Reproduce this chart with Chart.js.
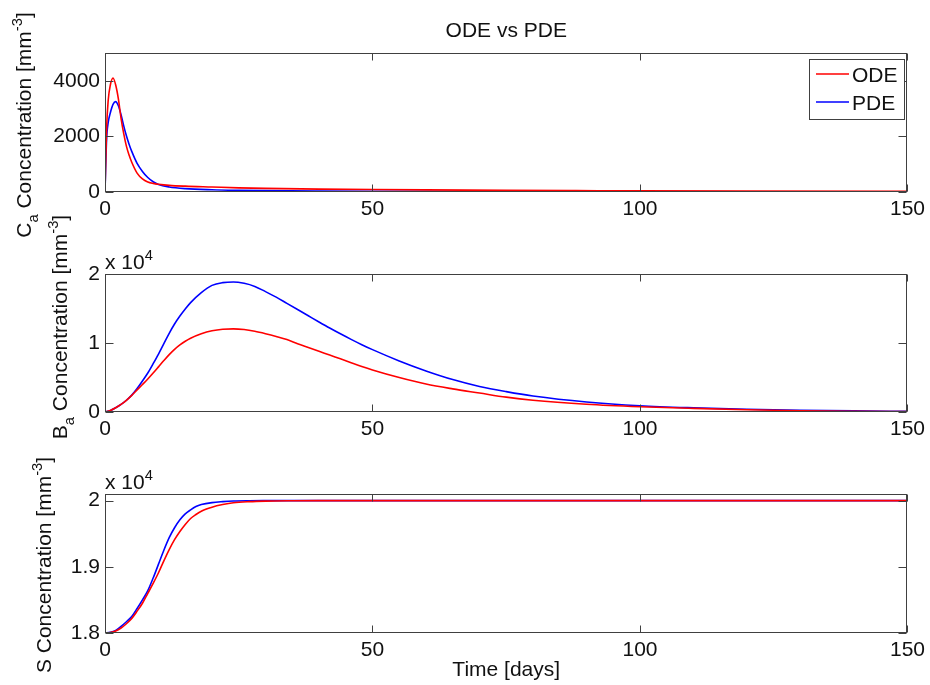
<!DOCTYPE html>
<html>
<head>
<meta charset="utf-8">
<title>ODE vs PDE</title>
<script src="https://cdn.jsdelivr.net/npm/chart.js@4.4.1/dist/chart.umd.min.js"></script>
<style>
  html, body { margin: 0; padding: 0; background: #fff; }
  #wrap { position: relative; width: 930px; height: 685px; background: #fff; }
  #wrap canvas { position: absolute; left: 0; top: 0; }
</style>
</head>
<body>
<div id="wrap">
  <canvas id="caChart" width="930" height="685"></canvas>
  <canvas id="baChart" width="930" height="685"></canvas>
  <canvas id="sChart" width="930" height="685"></canvas>
</div>
<script>
// ---- data ----
const seriesNames = ['ODE', 'PDE'];
const xTicks = [0, 50, 100, 150];

// C_a (top panel)
const timeCa = [0, 0.3, 0.6, 1, 1.5, 2, 2.5, 3, 3.5, 4, 4.5, 5, 6, 7, 8, 9, 10, 12, 15, 20, 25, 30, 40, 50, 60, 75, 88, 100, 120, 150];
const caODE  = [0, 2300, 3300, 3850, 4100, 3850, 3350, 2650, 2100, 1650, 1330, 1070, 680, 470, 360, 310, 280, 240, 210, 180, 150, 130, 105, 88, 75, 60, 50, 42, 32, 22];
const caPDE  = [0, 1900, 2500, 2850, 3150, 3250, 3100, 2780, 2380, 2020, 1720, 1460, 1030, 740, 520, 370, 270, 180, 120, 80, 60, 48, 35, 27, 22, 17, 14, 12, 10, 8];
const caTicks = [0, 2000, 4000];

// B_a (middle panel)
const timeBa = [0, 1, 2, 3, 4, 5, 6, 7, 8, 9, 10, 11, 12, 13, 14, 15, 16, 18, 20, 22, 24, 26, 28, 30, 32, 34, 36, 38, 40, 42, 44, 46, 48, 50, 55, 60, 65, 70, 75, 80, 90, 100, 110, 120, 130, 140, 150];
const baODE  = [0, 230, 620, 1100, 1700, 2420, 3200, 3980, 4780, 5640, 6540, 7450, 8320, 9080, 9720, 10260, 10700, 11350, 11780, 12000, 12050, 11950, 11700, 11350, 10950, 10500, 9900, 9350, 8800, 8250, 7700, 7150, 6600, 6100, 5000, 4050, 3350, 2750, 2150, 1700, 1120, 760, 520, 330, 180, 100, 50];
const baPDE  = [0, 230, 620, 1100, 1700, 2450, 3400, 4500, 5650, 7000, 8400, 9900, 11400, 12750, 13900, 14920, 15850, 17300, 18350, 18750, 18850, 18650, 18200, 17450, 16650, 15750, 14850, 13950, 13050, 12170, 11330, 10530, 9760, 9040, 7400, 5950, 4700, 3700, 2950, 2320, 1450, 900, 600, 400, 260, 160, 100];
const baTicks = [0, 10000, 20000];

// S (bottom panel)
const timeS = [0, 1, 2, 3, 4, 5, 6, 7, 8, 9, 10, 11, 12, 13, 14, 15, 16, 17, 18, 20, 22, 24, 27, 30, 35, 40, 60, 100, 150];
const sODE  = [18000, 18008, 18030, 18075, 18140, 18220, 18330, 18450, 18600, 18750, 18910, 19090, 19260, 19410, 19534, 19640, 19730, 19790, 19840, 19900, 19940, 19968, 19985, 19993, 19998, 20000, 20000, 20000, 20000];
const sPDE  = [18000, 18010, 18040, 18100, 18170, 18250, 18370, 18500, 18640, 18830, 19040, 19250, 19440, 19590, 19710, 19800, 19860, 19910, 19940, 19970, 19985, 19995, 19999, 20000, 20000, 20000, 20000, 20000, 20000];
const sTicks = [18000, 19000, 20000];

// ---- drawing helpers ----
const FONT = '"Liberation Sans", Arial, Helvetica, sans-serif';
const FS = 21;
const AXIS_COLOR = '#404040';
const TEXT_COLOR = '#111';
const W = 930, H = 685;
const PLOT_LEFT = 105, PLOT_RIGHT = 909;

function pts(t, v) {
  return t.map((x, i) => ({ x: x, y: v[i] }));
}

// draws text runs with sub/superscripts along the baseline, returns width
function drawRich(ctx, parts, x, y, measureOnly) {
  let cx = x;
  parts.forEach(p => {
    const size = (p.sub || p.sup) ? FS * 0.7 : FS;
    ctx.font = size + 'px ' + FONT;
    let dy = 0;
    if (p.sub) dy = FS * 0.32;
    if (p.sup) dy = -FS * 0.45;
    if (!measureOnly) ctx.fillText(p.t, cx, y + dy);
    cx += ctx.measureText(p.t).width;
  });
  return cx - x;
}

const framePlugin = {
  id: 'frame',
  afterDraw(chart, args, opts) {
    const ctx = chart.ctx;
    const a = chart.chartArea;
    const xs = chart.scales.x, ys = chart.scales.y;
    ctx.save();

    // box and inward ticks
    ctx.strokeStyle = AXIS_COLOR;
    ctx.lineWidth = 1;
    const L = Math.round(a.left) + 0.5, R = Math.round(a.right) - 0.5;
    const T = Math.round(a.top) + 0.5, B = Math.round(a.bottom) - 0.5;
    ctx.strokeRect(L, T, R - L, B - T);
    ctx.beginPath();
    xs.ticks.forEach(tk => {
      const px = Math.round(xs.getPixelForValue(tk.value)) + 0.5;
      ctx.moveTo(px, B); ctx.lineTo(px, B - 7);
      ctx.moveTo(px, T); ctx.lineTo(px, T + 7);
    });
    ys.ticks.forEach(tk => {
      const py = Math.round(ys.getPixelForValue(tk.value)) + 0.5;
      ctx.moveTo(L, py); ctx.lineTo(L + 8, py);
      ctx.moveTo(R, py); ctx.lineTo(R - 8, py);
    });
    ctx.stroke();

    ctx.fillStyle = TEXT_COLOR;
    ctx.textBaseline = 'alphabetic';
    ctx.textAlign = 'left';

    // y axis label, rotated
    if (opts.yLabel) {
      const len = drawRich(ctx, opts.yLabel, 0, 0, true);
      ctx.save();
      ctx.translate(opts.yLabelX, opts.yLabelY + len / 2);
      ctx.rotate(-Math.PI / 2);
      drawRich(ctx, opts.yLabel, 0, 0);
      ctx.restore();
    }

    // "x 10^4" multiplier above the axes
    if (opts.exponent) {
      drawRich(ctx, [{ t: 'x 10' }, { t: '4', sup: true }], a.left, a.top - 5);
    }

    if (opts.title) {
      ctx.font = FS + 'px ' + FONT;
      ctx.textAlign = 'center';
      ctx.fillText(opts.title, (a.left + a.right) / 2, 37);
    }

    if (opts.xLabel) {
      ctx.font = FS + 'px ' + FONT;
      ctx.textAlign = 'center';
      ctx.fillText(opts.xLabel, (a.left + a.right) / 2, 676);
    }

    // legend box in the upper right corner
    if (opts.legend) {
      const bx = 809.5, by = 59.5, bw = 95, bh = 60;
      ctx.fillStyle = '#fff';
      ctx.fillRect(bx, by, bw, bh);
      ctx.strokeStyle = AXIS_COLOR;
      ctx.strokeRect(bx, by, bw, bh);
      ctx.font = FS + 'px ' + FONT;
      ctx.textAlign = 'left';
      chart.data.datasets.forEach((ds, i) => {
        const ly = 74 + i * 28;
        ctx.strokeStyle = ds.borderColor;
        ctx.lineWidth = 1.5;
        ctx.beginPath();
        ctx.moveTo(816, ly); ctx.lineTo(849, ly);
        ctx.stroke();
        ctx.fillStyle = TEXT_COLOR;
        ctx.fillText(ds.label, 852, ly + 8);
      });
    }
    ctx.restore();
  }
};

function makePanel(id, p) {
  return new Chart(document.getElementById(id), {
    type: 'line',
    data: {
      datasets: [
        { label: seriesNames[0], data: pts(p.t, p.ode), borderColor: '#ff0000', borderWidth: 1.6,
          pointRadius: 0, cubicInterpolationMode: 'monotone', fill: false },
        { label: seriesNames[1], data: pts(p.t, p.pde), borderColor: '#0000ff', borderWidth: 1.6,
          pointRadius: 0, cubicInterpolationMode: 'monotone', fill: false }
      ]
    },
    options: {
      responsive: false,
      animation: false,
      events: [],
      layout: { padding: { left: 0, right: W - PLOT_RIGHT, top: p.top, bottom: H - p.bottom - 30 } },
      plugins: {
        legend: { display: false },
        tooltip: { enabled: false },
        frame: p.frame
      },
      scales: {
        x: {
          type: 'linear', min: 0, max: 150,
          afterBuildTicks: s => { s.ticks = xTicks.map(v => ({ value: v })); },
          afterFit: s => { s.height = 30; },
          grid: { display: false, drawTicks: false },
          border: { display: false },
          ticks: { color: TEXT_COLOR, font: { family: FONT, size: FS }, padding: 5, maxRotation: 0, autoSkip: false }
        },
        y: {
          type: 'linear', min: p.min, max: p.max,
          afterBuildTicks: s => { s.ticks = p.ticks.map(v => ({ value: v })); },
          afterFit: s => { s.width = PLOT_LEFT; },
          grid: { display: false, drawTicks: false },
          border: { display: false },
          ticks: { color: TEXT_COLOR, font: { family: FONT, size: FS }, padding: 5, callback: p.fmt }
        }
      }
    },
    plugins: [framePlugin]
  });
}

makePanel('caChart', {
  t: timeCa, ode: caODE, pde: caPDE, top: 53, bottom: 192, min: 0, max: 5000, ticks: caTicks,
  fmt: v => String(v),
  frame: {
    title: 'ODE vs PDE', legend: true,
    yLabel: [{ t: 'C' }, { t: 'a', sub: true }, { t: ' Concentration [mm' }, { t: '-3', sup: true }, { t: ']' }],
    yLabelX: 31, yLabelY: 125
  }
});

makePanel('baChart', {
  t: timeBa, ode: baODE, pde: baPDE, top: 274, bottom: 412, min: 0, max: 20000, ticks: baTicks,
  fmt: v => String(v / 10000),
  frame: {
    exponent: true,
    yLabel: [{ t: 'B' }, { t: 'a', sub: true }, { t: ' Concentration [mm' }, { t: '-3', sup: true }, { t: ']' }],
    yLabelX: 67, yLabelY: 327
  }
});

makePanel('sChart', {
  t: timeS, ode: sODE, pde: sPDE, top: 494, bottom: 633, min: 18000, max: 20100, ticks: sTicks,
  fmt: v => String(Math.round(v / 1000) / 10),
  frame: {
    exponent: true, xLabel: 'Time [days]',
    yLabel: [{ t: 'S Concentration [mm' }, { t: '-3', sup: true }, { t: ']' }],
    yLabelX: 51, yLabelY: 565
  }
});
</script>
</body>
</html>
